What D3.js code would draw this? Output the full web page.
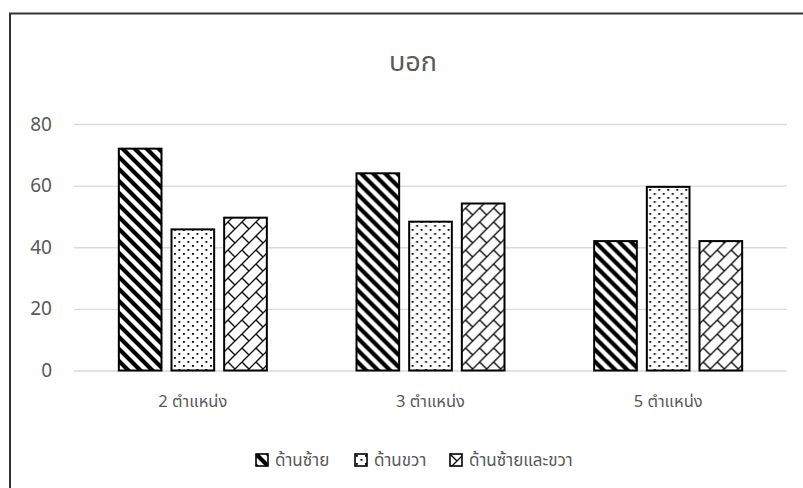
<!DOCTYPE html>
<html>
<head>
<meta charset="utf-8">
<script src="https://cdn.jsdelivr.net/npm/d3@7"></script>
<style>
  body { margin: 0; background: #fff; }
  svg { display: block; }
  text { font-family: "Noto Sans Thai", Tahoma, "Leelawadee UI", "DejaVu Sans", sans-serif; }
</style>
</head>
<body>
<div id="chart"></div>
<script>
var categories = ["2 ตำแหน่ง", "3 ตำแหน่ง", "5 ตำแหน่ง"];
var series = ["ด้านซ้าย", "ด้านขวา", "ด้านซ้ายและขวา"];
var leftVals = [72, 64, 42];
var rightVals = [45.8, 48.3, 59.6];
var bothVals = [49.6, 54.2, 42];
var yTicks = [0, 20, 40, 60, 80];
var title = "บอก";

var svgW = 803, svgH = 488;
var margin = { top: 124, right: 16, bottom: 118, left: 74 };
var w = svgW - margin.left - margin.right;
var h = svgH - margin.top - margin.bottom;

var svg = d3.select("#chart").append("svg")
    .attr("width", svgW).attr("height", svgH);

// patterns
var defs = svg.append("defs");
var p1 = defs.append("pattern").attr("id", "pLeft")
    .attr("patternUnits", "userSpaceOnUse").attr("width", 12).attr("height", 12);
p1.append("rect").attr("width", 12).attr("height", 12).attr("fill", "#fff");
p1.append("path").attr("d", "M-2,-2 L14,14 M-2,10 L2,14 M10,-2 L14,2")
    .attr("stroke", "#000").attr("stroke-width", 4.2);

var p2 = defs.append("pattern").attr("id", "pRight")
    .attr("patternUnits", "userSpaceOnUse").attr("width", 9).attr("height", 8);
p2.append("rect").attr("width", 9).attr("height", 8).attr("fill", "#fff");
p2.append("rect").attr("x", 1).attr("y", 1).attr("width", 1.8).attr("height", 1.8).attr("fill", "#000");
p2.append("rect").attr("x", 5.5).attr("y", 5).attr("width", 1.8).attr("height", 1.8).attr("fill", "#000");

var p3 = defs.append("pattern").attr("id", "pBoth")
    .attr("patternUnits", "userSpaceOnUse").attr("width", 14).attr("height", 14);
p3.append("rect").attr("width", 14).attr("height", 14).attr("fill", "#fff");
p3.append("path").attr("d", "M-1,15 L15,-1 M0,0 L7,7 M-1,1 L1,-1 M13,15 L15,13")
    .attr("stroke", "#111").attr("stroke-width", 1.4);

var fills = ["url(#pLeft)", "url(#pRight)", "url(#pBoth)"];

// chart area border
svg.append("rect").attr("x", 10).attr("y", 13.5).attr("width", 900).attr("height", 600)
    .attr("fill", "none").attr("stroke", "#333").attr("stroke-width", 2);

svg.append("text").attr("x", 413).attr("y", 71)
    .attr("text-anchor", "middle").attr("font-size", 27).attr("fill", "#595959")
    .text(title);

var chartGroup = svg.append("g")
    .attr("transform", `translate(${margin.left}, ${margin.top})`);

var yScale = d3.scaleLinear().domain([0, 80]).range([h + 0.5, 0]);
var x0 = d3.scaleBand().domain(categories).range([0, w]);
var bw = x0.bandwidth();
var x1 = d3.scaleBand().domain(series)
    .range([(bw - 148) / 2, (bw + 148) / 2]).paddingInner(0.19);

var yAxis = d3.axisLeft(yScale).tickValues(yTicks).tickSize(-w).tickPadding(22);
var yg = chartGroup.append("g").call(yAxis);
yg.select(".domain").remove();
yg.selectAll(".tick line").attr("stroke", "#d9d9d9").attr("stroke-width", 1.3);
yg.selectAll(".tick text").attr("font-family", "Lato, 'Open Sans', sans-serif")
    .attr("font-size", 19).attr("fill", "#595959");

var rows = categories.map(function(c, i) {
    return { cat: c, vals: [leftVals[i], rightVals[i], bothVals[i]] };
});

var groups = chartGroup.selectAll("g.cat").data(rows).enter().append("g")
    .attr("class", "cat")
    .attr("transform", d => `translate(${x0(d.cat)}, 0)`);

groups.selectAll("rect").data(d => d.vals.map((v, j) => ({ s: series[j], v: v, j: j })))
    .enter().append("rect")
    .attr("x", d => x1(d.s))
    .attr("y", d => yScale(d.v))
    .attr("width", x1.bandwidth())
    .attr("height", d => yScale(0) - yScale(d.v))
    .attr("fill", d => fills[d.j])
    .attr("stroke", "#000").attr("stroke-width", 2);

var xAxis = d3.axisBottom(x0).tickSize(0).tickPadding(25);
var xg = chartGroup.append("g").attr("transform", `translate(0, ${h})`).call(xAxis);
xg.select(".domain").remove();
xg.selectAll(".tick text").attr("font-size", 16.5).attr("fill", "#595959")
    .attr("font-family", "'Noto Sans Thai', Tahoma, 'DejaVu Sans', sans-serif");

// legend
var legendX = [256, 355, 450];
var legend = svg.append("g").selectAll("g").data(series).enter().append("g")
    .attr("transform", (d, i) => `translate(${legendX[i]}, 454)`);
legend.append("rect").attr("width", 12).attr("height", 12)
    .attr("fill", (d, i) => fills[i]).attr("stroke", "#000").attr("stroke-width", 1.6);
legend.append("text").attr("x", 19).attr("y", 12)
    .attr("font-size", 17).attr("fill", "#595959").text(d => d);
</script>
</body>
</html>
